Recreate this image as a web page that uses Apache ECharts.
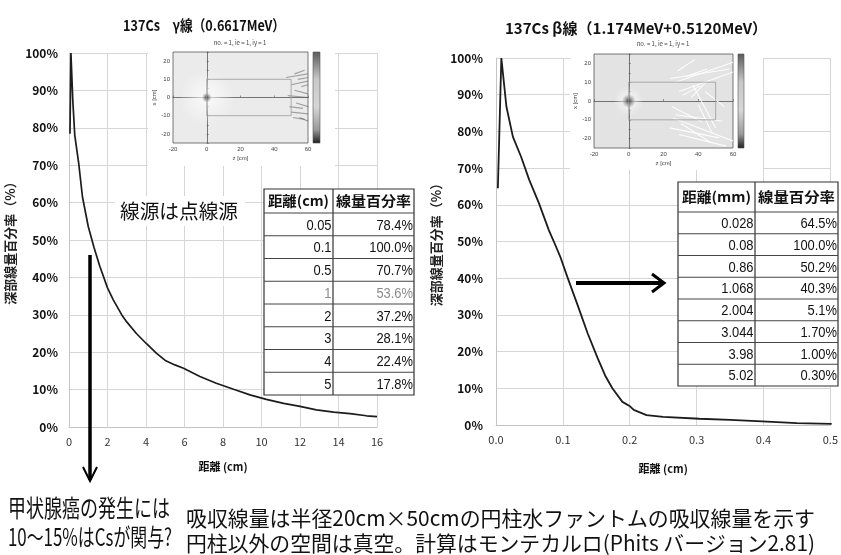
<!DOCTYPE html>
<html><head><meta charset="utf-8">
<script src="https://cdn.jsdelivr.net/npm/echarts@6/dist/echarts.min.js"></script>
<style>html,body{margin:0;padding:0;background:#fff}#c{width:841px;height:555px}</style>
</head><body><div id="c"></div>
<script>
// ---- depth-dose curves (distance in cm, relative dose in %) ----
const gammaDepth = [0.05,0.1,0.2,0.3,0.5,0.7,1,1.3,1.6,2,2.3,2.75,3,3.5,4,4.55,5,5.5,5.95,6.8,7.65,8.55,9.4,10.25,11.15,12,12.85,13.75,14.6,15.45,16];
const gammaPct   = [78.4,100,87,78,70.7,61.5,53.6,48,43,37.2,34,29.9,28.1,25,22.4,19.7,17.8,16.6,15.7,13.5,11.7,10.1,8.6,7.4,6.3,5.5,4.6,4.0,3.6,3.0,2.8];

const betaDepth = [0.0028,0.008,0.0156,0.0253,0.0375,0.0497,0.0643,0.079,0.086,0.096,0.1068,0.123,0.137,0.152,0.164,0.174,0.189,0.2004,0.206,0.225,0.25,0.3044,0.35,0.398,0.45,0.502];
const betaPct   = [64.5,100,86.7,78.5,73.1,66.8,60.4,53.1,50.2,45.9,40.3,32.2,25,18.2,13.2,10,6.3,5.1,4.1,2.7,2.2,1.7,1.4,1.0,0.5,0.3];

// ---- dose tables ----
const gammaTableHead = ['距離(cm)', '線量百分率'];
const gammaTableDist = ['0.05','0.1','0.5','1','2','3','4','5'];
const gammaTablePct  = ['78.4%','100.0%','70.7%','53.6%','37.2%','28.1%','22.4%','17.8%'];
const betaTableHead  = ['距離(mm)', '線量百分率'];
const betaTableDist  = ['0.028','0.08','0.86','1.068','2.004','3.044','3.98','5.02'];
const betaTablePct   = ['64.5%','100.0%','50.2%','40.3%','5.1%','1.70%','1.00%','0.30%'];

// ---- axis ranges ----
const gammaXTicks = [0,2,4,6,8,10,12,14,16];
const betaXTicks  = [0,0.1,0.2,0.3,0.4,0.5];
const pctTicks    = [0,10,20,30,40,50,60,70,80,90,100];

// ---- PHITS dose-map insets (z, x in cm) ----
const sourcePoint = [[0,0]];
const phantomBox = [[0,10],[50,10],[50,-10],[0,-10],[0,10]];
const gammaTracks = [
  [[47,11],[60,13]],[[50,7],[60,9]],[[52,4],[60,2]],[[48,1],[60,0]],[[53,-3],[60,-5]],
  [[50,-8],[60,-9]],[[55,-11],[60,-13]],[[52,13],[58,15]],[[56,6],[60,7]],[[49,-5],[57,-6]],
  [[54,10],[60,11]],[[51,-11],[58,-12]]
];
const betaTracks = [
  [[27,10],[60,20.6]],[[24,12],[58,17]],[[29,5],[60,15.4]],[[37,8.4],[50,-14.3]],
  [[27,-7.3],[54,-10.8]],[[25.5,-9],[60,-21.3]],[[23.6,-14.3],[52,-19.6]],[[29,-17.8],[56,-24]],
  [[31,3],[41,8]],[[36,2],[44,9.5]],[[25,-3],[42,-11]],[[33,13],[45,17]],
  [[40,-2],[48,-17]],[[30,-12],[47,-22]],[[44,5],[55,-3]],[[28,16],[38,22]]
];

const CJK = '"Noto Sans CJK JP", "Noto Sans", sans-serif';
const mctx = document.createElement('canvas').getContext('2d');
function fit(text, font, width) { mctx.font = font; return width / mctx.measureText(text).width; }

const zip = (a, b) => a.map((v, i) => [v, b[i]]);

function label(text, font, x, y, width, align, z, color) {
  return {
    type: 'text', x, y, zlevel: z || 3, scaleX: fit(text, font, width), silent: true,
    style: { text, font, fill: color || '#111', align: align || 'left', verticalAlign: 'middle' }
  };
}

// builds a bordered two-column table from the arrays above
function table(x0, xd, x1, top, headBottom, rowH, head, col1, col2, grayRow) {
  const els = [];
  const bottom = headBottom + rowH * col1.length;
  els.push({ type: 'rect', zlevel: 1, shape: { x: x0, y: top, width: x1 - x0, height: bottom - top },
    style: { fill: '#fff', stroke: '#333', lineWidth: 1.2 } });
  els.push({ type: 'line', zlevel: 1, shape: { x1: xd, y1: top, x2: xd, y2: bottom }, style: { stroke: '#333', lineWidth: 1.2 } });
  for (let i = 0; i <= col1.length - 1; i++) {
    const y = headBottom + rowH * i;
    els.push({ type: 'line', zlevel: 1, shape: { x1: x0, y1: y, x2: x1, y2: y }, style: { stroke: '#444', lineWidth: 1 } });
  }
  const hf = 'bold 14px ' + CJK;
  els.push(label(head[0], hf, (x0 + xd) / 2, (top + headBottom) / 2, (xd - x0) - 8, 'center', 1));
  els.push(label(head[1], hf, (xd + x1) / 2, (top + headBottom) / 2, (x1 - xd) - 6, 'center', 1));
  const vf = '15px "Liberation Sans", Arial, sans-serif';
  col1.forEach((t, i) => {
    const yc = headBottom + rowH * (i + 0.5) + 1;
    const col = i === grayRow ? '#8a8a8a' : '#111';
    els.push({ type: 'text', zlevel: 1, x: xd - 1.5, y: yc, scaleX: 0.86, silent: true,
      style: { text: t, font: vf, fill: col, align: 'right', verticalAlign: 'middle' } });
    els.push({ type: 'text', zlevel: 1, x: x1 - 1, y: yc, scaleX: 0.86, silent: true,
      style: { text: col2[i], font: vf, fill: col, align: 'right', verticalAlign: 'middle' } });
  });
  return els;
}

const cbGrad = { type: 'linear', x: 0, y: 0, x2: 0, y2: 1, colorStops: [
  { offset: 0, color: '#5a5a5a' }, { offset: 0.3, color: '#c8c8c8' }, { offset: 0.6, color: '#d6d6d6' },
  { offset: 0.85, color: '#9a9a9a' }, { offset: 1, color: '#1e1e1e' }] };

const graphics = [
  // white backing behind the inset dose maps
  { type: 'rect', zlevel: 1, shape: { x: 148, y: 35, width: 187, height: 131 }, style: { fill: '#fff' } },
  { type: 'rect', zlevel: 1, shape: { x: 570, y: 36, width: 193, height: 134 }, style: { fill: '#fff' } },
  // colour bars
  { type: 'rect', zlevel: 2, shape: { x: 313, y: 52, width: 7, height: 91 }, style: { fill: cbGrad, stroke: '#555', lineWidth: 0.6 } },
  { type: 'rect', zlevel: 2, shape: { x: 738, y: 54, width: 6, height: 94 }, style: { fill: cbGrad, stroke: '#555', lineWidth: 0.6 } },
  { type: 'text', zlevel: 2, x: 240, y: 43, style: { text: 'no. = 1, ie = 1, iy = 1', font: '6px ' + CJK, fill: '#444', align: 'center', verticalAlign: 'middle' } },
  { type: 'text', zlevel: 2, x: 663, y: 44, style: { text: 'no. = 1, ie = 1, iy = 1', font: '6px ' + CJK, fill: '#444', align: 'center', verticalAlign: 'middle' } },
  // titles
  label('137Cs　γ線（0.6617MeV）', 'bold 15px ' + CJK, 204, 25, 162, 'center'),
  label('137Cs β線（1.174MeV+0.5120MeV）', 'bold 15px ' + CJK, 636, 28, 262, 'center'),
  // source note
  { type: 'rect', zlevel: 1, shape: { x: 114, y: 196, width: 131, height: 30 }, style: { fill: '#fff' } },
  label('線源は点線源', '20px ' + CJK, 120, 211, 118, 'left', 3),
  // arrows
  { type: 'line', zlevel: 3, shape: { x1: 90, y1: 255, x2: 90, y2: 480 }, style: { stroke: '#000', lineWidth: 3.5 } },
  { type: 'polyline', zlevel: 3, shape: { points: [[83, 467], [90, 481], [97, 467]] }, style: { stroke: '#000', lineWidth: 2, fill: null } },
  { type: 'line', zlevel: 3, shape: { x1: 576, y1: 283, x2: 662, y2: 283 }, style: { stroke: '#000', lineWidth: 4 } },
  { type: 'polyline', zlevel: 3, shape: { points: [[652, 274], [664, 283], [652, 292]] }, style: { stroke: '#000', lineWidth: 3, fill: null } },
  // notes under the charts
  label('甲状腺癌の発生には', '24px ' + CJK, 8, 508, 162),
  label('10～15%はCsが関与?', '24px ' + CJK, 8, 537, 164),
  label('吸収線量は半径20cm×50cmの円柱水ファントムの吸収線量を示す', '21px ' + CJK, 186, 518, 629),
  label('円柱以外の空間は真空。計算はモンテカルロ(Phits バージョン2.81)', '21px ' + CJK, 186, 543, 629)
].concat(
  table(264, 333, 414, 189, 213, 22.75, gammaTableHead, gammaTableDist, gammaTablePct, 3),
  table(678, 755, 838, 182, 212, 21.75, betaTableHead, betaTableDist, betaTablePct, -1)
);

function mainX(gi, ticks, fmt, gap) {
  return {
    type: 'value', gridIndex: gi, min: ticks[0], max: ticks[ticks.length - 1], interval: ticks[1] - ticks[0],
    axisLine: { show: true, lineStyle: { color: '#c4c4c4' } }, axisTick: { show: false },
    axisLabel: { fontSize: 11, color: '#333', margin: 9, fontFamily: CJK, formatter: fmt },
    splitLine: { show: true, lineStyle: { color: '#d6d6d6' } },
    name: '距離 (cm)', nameLocation: 'middle', nameGap: gap,
    nameTextStyle: { fontSize: 11, fontWeight: 'bold', color: '#111', fontFamily: CJK }
  };
}
function mainY(gi, margin, gap) {
  return {
    type: 'value', gridIndex: gi, min: pctTicks[0], max: pctTicks[pctTicks.length - 1], interval: pctTicks[1] - pctTicks[0],
    axisLine: { show: true, lineStyle: { color: '#c4c4c4' } }, axisTick: { show: false },
    axisLabel: { fontSize: 12, fontWeight: 'bold', color: '#111', margin, fontFamily: CJK, formatter: '{value}%' },
    splitLine: { show: true, lineStyle: { color: '#d6d6d6' } },
    name: '深部線量百分率（%）', nameLocation: 'middle', nameRotate: 90, nameGap: gap,
    nameTextStyle: { fontSize: 13, fontWeight: 'bold', color: '#222', fontFamily: CJK }
  };
}
function insetX(gi) {
  return {
    type: 'value', gridIndex: gi, min: -20, max: 60, interval: 20, zlevel: 2,
    axisLine: { show: true, lineStyle: { color: '#555', width: 0.8 } },
    axisTick: { show: true, inside: true, length: 2, lineStyle: { color: '#555', width: 0.6 } },
    axisLabel: { fontSize: 6, color: '#444', margin: 3 }, splitLine: { show: false },
    name: 'z [cm]', nameLocation: 'middle', nameGap: 12, nameTextStyle: { fontSize: 6, color: '#444' }
  };
}
function insetY(gi) {
  return {
    type: 'value', gridIndex: gi, min: -25, max: 25, interval: 5, zlevel: 2,
    axisLine: { show: true, lineStyle: { color: '#555', width: 0.8 } },
    axisTick: { show: true, inside: true, length: 2, lineStyle: { color: '#555', width: 0.6 } },
    axisLabel: { fontSize: 6, color: '#444', margin: 3, formatter: v => (v % 10 === 0 && Math.abs(v) < 25) ? v : '' },
    splitLine: { show: false },
    name: 'x [cm]', nameLocation: 'middle', nameRotate: 90, nameGap: 12, nameTextStyle: { fontSize: 6, color: '#444' }
  };
}
function radial(c0, c1) {
  return { type: 'radial', x: 0.5, y: 0.5, r: 0.5, colorStops: [{ offset: 0, color: c0 }, { offset: 1, color: c1 }] };
}
function insetSeries(gi, tracks, trackColor, trackWidth, leftShade, haloSize, dotSize) {
  return [
    { type: 'line', xAxisIndex: gi, yAxisIndex: gi, zlevel: 2, data: phantomBox, showSymbol: false, silent: true,
      lineStyle: { color: '#9a9a9a', width: 0.8 },
      markArea: { silent: true, itemStyle: { color: leftShade }, data: [[{ xAxis: -20 }, { xAxis: 0 }]] } },
    { type: 'lines', coordinateSystem: 'cartesian2d', xAxisIndex: gi, yAxisIndex: gi, zlevel: 2, silent: true,
      lineStyle: { color: trackColor, width: trackWidth, opacity: 1 },
      data: tracks.map(t => ({ coords: t })) },
    { type: 'scatter', xAxisIndex: gi, yAxisIndex: gi, zlevel: 2, data: sourcePoint, symbolSize: haloSize, silent: true,
      itemStyle: { color: radial('rgba(255,255,255,0.95)', 'rgba(255,255,255,0)') } },
    { type: 'scatter', xAxisIndex: gi, yAxisIndex: gi, zlevel: 2, data: sourcePoint, symbolSize: dotSize, silent: true,
      itemStyle: { color: radial('rgba(20,20,20,1)', 'rgba(90,90,90,0)') } }
  ];
}

const chart = echarts.init(document.getElementById('c'), null, { renderer: 'canvas', width: 841, height: 555 });
chart.setOption({
  backgroundColor: '#fff',
  animation: false,
  grid: [
    { left: 69, top: 53, width: 308, height: 374 },
    { left: 496, top: 58, width: 342, height: 367 },
    { left: 173, top: 52, width: 135, height: 91, show: true, backgroundColor: '#ebebeb', borderColor: '#555', borderWidth: 0.8, zlevel: 2 },
    { left: 594, top: 54, width: 139, height: 94, show: true, backgroundColor: '#e3e3e3', borderColor: '#555', borderWidth: 0.8, zlevel: 2 }
  ],
  xAxis: [
    mainX(0, gammaXTicks, v => v, 34),
    mainX(1, betaXTicks, v => v.toFixed(1), 38),
    insetX(2), insetX(3)
  ],
  yAxis: [mainY(0, 11, 52), mainY(1, 13, 53), insetY(2), insetY(3)],
  series: [
    { type: 'line', xAxisIndex: 0, yAxisIndex: 0, data: zip(gammaDepth, gammaPct), showSymbol: false,
      lineStyle: { color: '#1c1c1c', width: 1.7 } },
    { type: 'line', xAxisIndex: 1, yAxisIndex: 1, data: zip(betaDepth, betaPct), showSymbol: false,
      lineStyle: { color: '#1c1c1c', width: 1.8 } }
  ].concat(
    insetSeries(2, gammaTracks, 'rgba(70,70,70,0.45)', 1.2, 'rgba(248,248,248,0.6)', 56, 10),
    insetSeries(3, betaTracks, 'rgba(255,255,255,0.9)', 1.1, 'rgba(250,250,250,0.9)', 30, 14)
  ),
  graphic: { elements: graphics }
});
</script>
</body></html>
